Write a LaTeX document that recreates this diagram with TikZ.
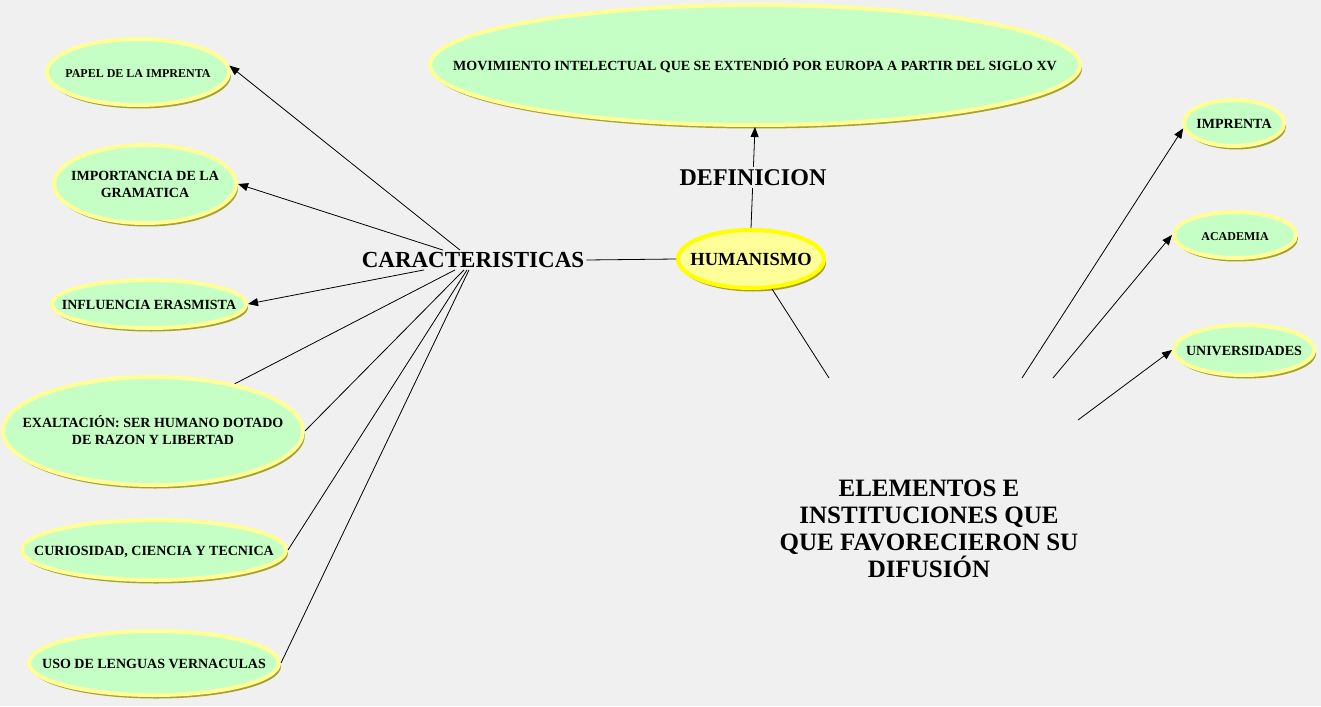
\documentclass[tikz,border=0pt]{standalone}
\usepackage{fontspec}
\setmainfont{Liberation Serif}
\usepackage{xcolor}
\usetikzlibrary{arrows.meta, shapes.geometric, shadows}
\definecolor{bggray}{RGB}{240,240,240}
\definecolor{leafgreen}{RGB}{198,255,198}
\definecolor{paleyellow}{RGB}{255,255,153}
\definecolor{brightyellow}{RGB}{255,255,0}
\definecolor{shadowgold}{RGB}{170,160,45}
\newcommand{\leaftext}[2][5.5pt]{\makebox[0pt]{\raisebox{-#1}[0pt][0pt]{\begin{tabular}{@{}c@{}}#2\end{tabular}}}}
\begin{document}
\begin{tikzpicture}[x=1pt, y=-1pt,
  leaf/.style={ellipse, draw=paleyellow, line width=4pt, fill=leafgreen, inner sep=0pt,
    font=\fontsize{14}{17}\selectfont\bfseries,
    drop shadow={shadow xshift=2pt, shadow yshift=-3.5pt, fill=shadowgold, opacity=1}},
  root/.style={leaf, draw=brightyellow, fill=paleyellow, font=\fontsize{18.5}{20}\selectfont\bfseries},
  title/.style={font=\fontsize{23}{27}\selectfont\bfseries, align=center, inner sep=2pt},
  link/.style={line width=0.8pt},
  arrow/.style={link, -{Triangle[length=10pt, width=8pt]}}
]
\useasboundingbox (0,0) rectangle (1321,706);
\fill[bggray] (0,0) rectangle (1321,706);

\node[leaf, minimum width=650, minimum height=120] (mov) at (755,65) {\leaftext{MOVIMIENTO INTELECTUAL QUE SE EXTENDIÓ POR EUROPA A PARTIR DEL SIGLO XV}};
\node[root, minimum width=146, minimum height=58] (hum) at (751,259) {\leaftext[7pt]{HUMANISMO}};
\node[title] (carac) at (473,260) {CARACTERISTICAS};
\node[title, font=\fontsize{25}{27}\selectfont\bfseries] (elem) at (929,529) {ELEMENTOS E\\INSTITUCIONES QUE\\QUE FAVORECIERON SU\\DIFUSIÓN};

\node[leaf, minimum width=182, minimum height=66, font=\fontsize{12}{15}\selectfont\bfseries] (papel) at (138,72) {\leaftext{PAPEL DE LA IMPRENTA}};
\node[leaf, minimum width=182, minimum height=78] (gram) at (145,184) {\leaftext{IMPORTANCIA DE LA\\GRAMATICA}};
\node[leaf, minimum width=194, minimum height=48] (eras) at (149,304) {\leaftext{INFLUENCIA ERASMISTA}};
\node[leaf, minimum width=300, minimum height=108] (exal) at (153,431) {\leaftext{EXALTACIÓN: SER HUMANO DOTADO\\DE RAZON Y LIBERTAD}};
\node[leaf, minimum width=264, minimum height=60] (curio) at (154,550) {\leaftext{CURIOSIDAD, CIENCIA Y TECNICA}};
\node[leaf, minimum width=250, minimum height=64] (uso) at (154,663) {\leaftext{USO DE LENGUAS VERNACULAS}};

\node[leaf, minimum width=100, minimum height=46] (imp) at (1234,123) {\leaftext{IMPRENTA}};
\node[leaf, minimum width=122, minimum height=46, font=\fontsize{12}{15}\selectfont\bfseries] (acad) at (1235,235) {\leaftext{ACADEMIA}};
\node[leaf, minimum width=140, minimum height=50] (univ) at (1244,350) {\leaftext{UNIVERSIDADES}};

\coordinate (e1) at (829,378);
\coordinate (e2) at (1022,378);
\coordinate (e3) at (1053,378);
\coordinate (e4) at (1078,420);

\draw[link] (carac.east) -- (hum.west);
\draw[arrow] (hum.north) -- node[title, fill=bggray, font=\fontsize{24}{27}\selectfont\bfseries] (def) {DEFINICION} (mov.south);

\draw[arrow] ([xshift=-13pt]carac.north) -- (papel.4);
\draw[arrow] ([xshift=-30pt]carac.north) -- (gram.east);
\draw[arrow] ([xshift=-49pt]carac.south) -- (eras.east);
\draw[link] ([xshift=-18pt]carac.south) -- (exal.30);
\draw[link] ([xshift=-9pt]carac.south) -- (exal.east);
\draw[link] ([xshift=-6pt]carac.south) -- (curio.east);
\draw[link] ([xshift=-4pt]carac.south) -- (uso.east);

\draw[link] (hum.-55) -- (e1);
\draw[arrow] (e2) -- (imp.186);
\draw[arrow] (e3) -- (acad.west);
\draw[arrow] (e4) -- (univ.west);
\end{tikzpicture}
\end{document}
